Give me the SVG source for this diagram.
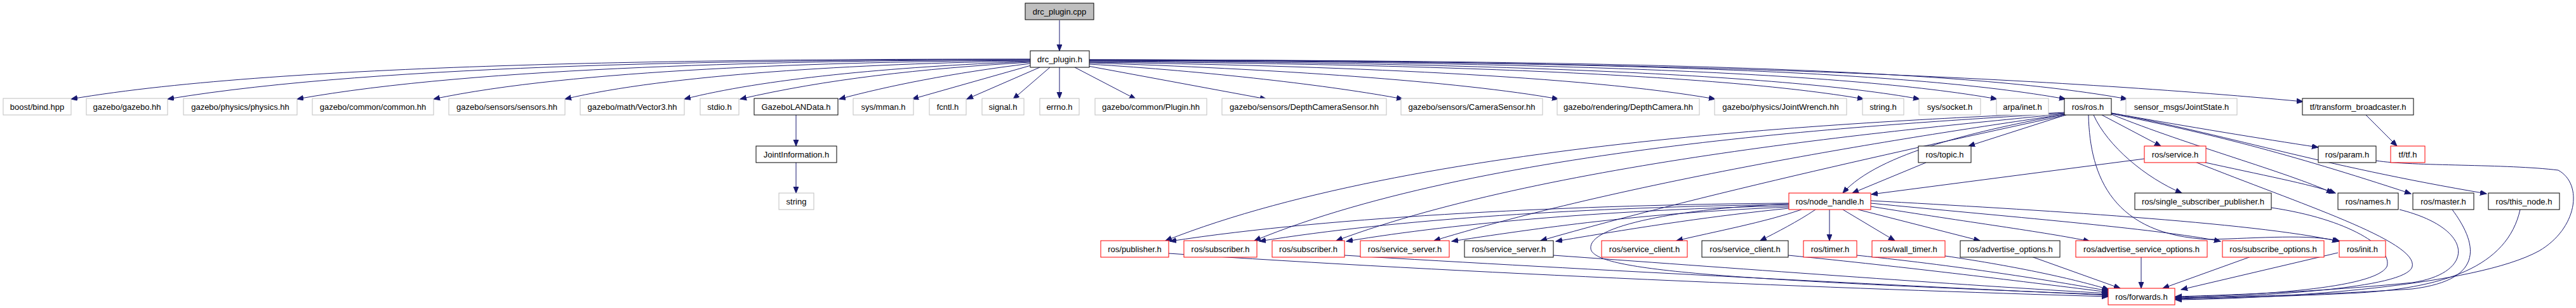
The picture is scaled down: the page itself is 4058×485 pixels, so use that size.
<svg xmlns="http://www.w3.org/2000/svg" width="4058" height="485" viewBox="0 0 4058 485">
<style>
rect{stroke-width:1}
.g{fill:#fff;stroke:#bfbfbf}
.b{fill:#fff;stroke:#000}
.r{fill:#fff;stroke:#ff0000}
.f{fill:#bfbfbf;stroke:#000}
text{font-family:"Liberation Sans",Arial,Helvetica,sans-serif;font-size:13px;fill:#000;text-anchor:middle}
.e path{fill:none;stroke:#191970;stroke-width:1;marker-end:url(#a)}
</style>
<defs>
<marker id="a" markerUnits="userSpaceOnUse" markerWidth="12" markerHeight="9" refX="10" refY="4" orient="auto">
<path d="M0,0 L10,4 L0,8 z" fill="#191970" stroke="#191970" stroke-width="1"/>
</marker>
</defs>
<rect width="4058" height="485" fill="#fff"/>
<g id="edges" class="e">
<path d="M1669,32 L1669,80"/>
<path d="M1623,93 C1150,93 450,98 112,156"/>
<path d="M1623,94 C1200,94 600,100 264,156"/>
<path d="M1623,94 C1250,95 750,105 468,156"/>
<path d="M1623,95 C1300,97 900,110 683,156"/>
<path d="M1623,96 C1350,100 1050,118 890,156"/>
<path d="M1623,97 C1400,105 1200,125 1078,156"/>
<path d="M1623,98 C1450,108 1300,125 1166,156"/>
<path d="M1623,100 C1500,115 1400,135 1322,156"/>
<path d="M1624,103 L1437,156"/>
<path d="M1638,106 L1523,156"/>
<path d="M1654,106 L1596,156"/>
<path d="M1669,106 L1669,155"/>
<path d="M1693,106 L1789,156"/>
<path d="M1714,104 L1995,156"/>
<path d="M1716,101 C1900,112 2100,135 2210,156"/>
<path d="M1716,99 C2000,108 2300,128 2455,156"/>
<path d="M1716,98 C2100,103 2500,120 2702,156"/>
<path d="M1716,97 C2200,100 2700,115 2936,156"/>
<path d="M1716,96 C2300,98 2800,115 3024,156"/>
<path d="M1716,95 C2400,97 2900,112 3146,156"/>
<path d="M1716,95 C2500,96 3000,110 3254,156"/>
<path d="M1716,94 C2600,95 3100,110 3351,156"/>
<path d="M1716,94 C2600,95 3200,120 3628,160"/>
<path d="M1254,181 L1254,230"/>
<path d="M1254,256 L1254,304"/>
<path d="M3727,181 L3776,230"/>
<path d="M3254,181 L3101,230"/>
<path d="M3311,181 L3404,230"/>
<path d="M3326,178 C3450,200 3560,218 3652,232"/>
<path d="M3298,181 C3320,230 3380,280 3437,304"/>
<path d="M3326,180 C3450,230 3600,270 3675,304"/>
<path d="M3326,179 C3480,210 3600,240 3798,305"/>
<path d="M3326,178 C3500,210 3650,260 3917,305"/>
<path d="M3290,181 C3292,280 3330,370 3480,377 C3560,375 3640,368 3686,380"/>
<path d="M3253,180 C3120,205 2960,240 2903,304"/>
<path d="M3253,177 C3000,190 2250,215 1836,379"/>
<path d="M3253,178 C3000,195 2350,225 1976,379"/>
<path d="M3254,179 C3050,200 2450,250 2105,379"/>
<path d="M3254,180 C3080,205 2600,275 2259,379"/>
<path d="M3255,181 C3100,215 2700,300 2427,379"/>
<path d="M3034,256 L2918,304"/>
<path d="M3378,250 L2948,306"/>
<path d="M3470,255 C3560,275 3640,290 3679,304"/>
<path d="M3458,255 C3620,320 3810,380 3800,420 C3790,455 3560,466 3427,470"/>
<path d="M2818,320 C2500,322 2100,340 1843,380"/>
<path d="M2818,322 C2500,326 2200,345 1984,380"/>
<path d="M2818,324 C2550,330 2300,350 2121,380"/>
<path d="M2818,326 C2600,335 2450,355 2287,380"/>
<path d="M2818,328 C2700,340 2600,355 2451,380"/>
<path d="M2838,330 C2780,350 2700,365 2641,379"/>
<path d="M2860,330 C2830,350 2800,365 2773,379"/>
<path d="M2882,330 L2882,379"/>
<path d="M2903,330 L2985,379"/>
<path d="M2927,330 L3119,379"/>
<path d="M2947,325 C3100,350 3220,365 3292,380"/>
<path d="M2947,320 C3150,340 3400,360 3498,380"/>
<path d="M2947,316 C3200,330 3550,350 3684,380"/>
<path d="M2818,321 C2650,328 2500,355 2506,392 C2512,425 2700,440 3321,464"/>
<path d="M1841,399 C2300,430 2900,455 3321,467"/>
<path d="M2118,402 C2500,425 3000,450 3321,465"/>
<path d="M2447,402 C2700,420 3100,450 3321,462"/>
<path d="M2817,402 C3000,420 3200,445 3321,460"/>
<path d="M2925,402 C3100,420 3250,445 3321,458"/>
<path d="M3064,403 C3180,420 3270,440 3322,456"/>
<path d="M3200,404 L3340,454"/>
<path d="M3373,404 L3373,454"/>
<path d="M3546,404 L3407,454"/>
<path d="M3683,398 L3436,456"/>
<path d="M3578,327 C3700,345 3770,390 3760,420 C3740,455 3550,465 3427,468"/>
<path d="M3780,330 C3900,360 3900,430 3800,445 C3650,460 3500,465 3427,467"/>
<path d="M3863,330 C3900,380 3920,440 3800,455 C3650,465 3500,468 3427,469"/>
<path d="M3970,330 C3950,420 3850,455 3700,462 C3600,467 3500,469 3427,471"/>
<path d="M3743,253 C3800,262 3950,258 4030,268 C4070,290 4060,360 4000,395 C3900,450 3600,470 3427,472"/>
</g>
<g id="n_drc_plugin_cpp"><rect class="f" x="1615" y="5" width="108" height="26"/><text x="1669" y="22.5">drc_plugin.cpp</text></g>
<g id="n_drc_plugin_h"><rect class="b" x="1623" y="80" width="93" height="26"/><text x="1669.5" y="97.5">drc_plugin.h</text></g>
<g id="n_boost_bind"><rect class="g" x="5" y="155" width="107" height="26"/><text x="58.5" y="172.5">boost/bind.hpp</text></g>
<g id="n_gazebo_gazebo"><rect class="g" x="136" y="155" width="128" height="26"/><text x="200" y="172.5">gazebo/gazebo.hh</text></g>
<g id="n_gazebo_physics"><rect class="g" x="289" y="155" width="179" height="26"/><text x="378.5" y="172.5">gazebo/physics/physics.hh</text></g>
<g id="n_gazebo_common"><rect class="g" x="492" y="155" width="191" height="26"/><text x="587.5" y="172.5">gazebo/common/common.hh</text></g>
<g id="n_gazebo_sensors"><rect class="g" x="707" y="155" width="183" height="26"/><text x="798.5" y="172.5">gazebo/sensors/sensors.hh</text></g>
<g id="n_gazebo_vector3"><rect class="g" x="914" y="155" width="164" height="26"/><text x="996" y="172.5">gazebo/math/Vector3.hh</text></g>
<g id="n_stdio"><rect class="g" x="1103" y="155" width="61" height="26"/><text x="1133.5" y="172.5">stdio.h</text></g>
<g id="n_gazebolandata"><rect class="b" x="1188" y="155" width="132" height="26"/><text x="1254" y="172.5">GazeboLANData.h</text></g>
<g id="n_sys_mman"><rect class="g" x="1344" y="155" width="95" height="26"/><text x="1391.5" y="172.5">sys/mman.h</text></g>
<g id="n_fcntl"><rect class="g" x="1464" y="155" width="58" height="26"/><text x="1493" y="172.5">fcntl.h</text></g>
<g id="n_signal"><rect class="g" x="1547" y="155" width="66" height="26"/><text x="1580" y="172.5">signal.h</text></g>
<g id="n_errno"><rect class="g" x="1638" y="155" width="62" height="26"/><text x="1669" y="172.5">errno.h</text></g>
<g id="n_gazebo_plugin"><rect class="g" x="1725" y="155" width="176" height="26"/><text x="1813" y="172.5">gazebo/common/Plugin.hh</text></g>
<g id="n_gazebo_depthcamerasensor"><rect class="g" x="1925" y="155" width="259" height="26"/><text x="2054.5" y="172.5">gazebo/sensors/DepthCameraSensor.hh</text></g>
<g id="n_gazebo_camerasensor"><rect class="g" x="2207" y="155" width="223" height="26"/><text x="2318.5" y="172.5">gazebo/sensors/CameraSensor.hh</text></g>
<g id="n_gazebo_depthcamera"><rect class="g" x="2453" y="155" width="224" height="26"/><text x="2565" y="172.5">gazebo/rendering/DepthCamera.hh</text></g>
<g id="n_gazebo_jointwrench"><rect class="g" x="2701" y="155" width="208" height="26"/><text x="2805" y="172.5">gazebo/physics/JointWrench.hh</text></g>
<g id="n_string_h"><rect class="g" x="2934" y="155" width="65" height="26"/><text x="2966.5" y="172.5">string.h</text></g>
<g id="n_sys_socket"><rect class="g" x="3023" y="155" width="97" height="26"/><text x="3071.5" y="172.5">sys/socket.h</text></g>
<g id="n_arpa_inet"><rect class="g" x="3145" y="155" width="82" height="26"/><text x="3186" y="172.5">arpa/inet.h</text></g>
<g id="n_ros_ros"><rect class="b" x="3252" y="155" width="74" height="26"/><text x="3289" y="172.5">ros/ros.h</text></g>
<g id="n_sensor_msgs"><rect class="g" x="3349" y="155" width="175" height="26"/><text x="3436.5" y="172.5">sensor_msgs/JointState.h</text></g>
<g id="n_tf_broadcaster"><rect class="b" x="3627" y="155" width="175" height="26"/><text x="3714.5" y="172.5">tf/transform_broadcaster.h</text></g>
<g id="n_jointinformation"><rect class="b" x="1191" y="230" width="127" height="26"/><text x="1254.5" y="247.5">JointInformation.h</text></g>
<g id="n_ros_topic"><rect class="b" x="3022" y="230" width="83" height="26"/><text x="3063.5" y="247.5">ros/topic.h</text></g>
<g id="n_ros_service"><rect class="r" x="3378" y="230" width="97" height="26"/><text x="3426.5" y="247.5">ros/service.h</text></g>
<g id="n_ros_param"><rect class="b" x="3652" y="230" width="91" height="26"/><text x="3697.5" y="247.5">ros/param.h</text></g>
<g id="n_tf_tf"><rect class="r" x="3766" y="230" width="54" height="26"/><text x="3793" y="247.5">tf/tf.h</text></g>
<g id="n_string"><rect class="g" x="1227" y="304" width="55" height="26"/><text x="1254.5" y="321.5">string</text></g>
<g id="n_ros_node_handle"><rect class="r" x="2818" y="304" width="129" height="26"/><text x="2882.5" y="321.5">ros/node_handle.h</text></g>
<g id="n_ros_ssp"><rect class="b" x="3363" y="304" width="215" height="26"/><text x="3470.5" y="321.5">ros/single_subscriber_publisher.h</text></g>
<g id="n_ros_names"><rect class="b" x="3683" y="304" width="95" height="26"/><text x="3730.5" y="321.5">ros/names.h</text></g>
<g id="n_ros_master"><rect class="b" x="3801" y="304" width="96" height="26"/><text x="3849" y="321.5">ros/master.h</text></g>
<g id="n_ros_this_node"><rect class="b" x="3920" y="304" width="112" height="26"/><text x="3976" y="321.5">ros/this_node.h</text></g>
<g id="n_ros_publisher"><rect class="r" x="1734" y="379" width="107" height="26"/><text x="1787.5" y="396.5">ros/publisher.h</text></g>
<g id="n_ros_subscriber_1"><rect class="r" x="1865" y="379" width="115" height="26"/><text x="1922.5" y="396.5">ros/subscriber.h</text></g>
<g id="n_ros_subscriber_2"><rect class="r" x="2004" y="379" width="114" height="26"/><text x="2061" y="396.5">ros/subscriber.h</text></g>
<g id="n_ros_service_server_1"><rect class="r" x="2143" y="379" width="140" height="26"/><text x="2213" y="396.5">ros/service_server.h</text></g>
<g id="n_ros_service_server_2"><rect class="b" x="2307" y="379" width="140" height="26"/><text x="2377" y="396.5">ros/service_server.h</text></g>
<g id="n_ros_service_client_1"><rect class="r" x="2523" y="379" width="135" height="26"/><text x="2590.5" y="396.5">ros/service_client.h</text></g>
<g id="n_ros_service_client_2"><rect class="b" x="2681" y="379" width="136" height="26"/><text x="2749" y="396.5">ros/service_client.h</text></g>
<g id="n_ros_timer"><rect class="r" x="2841" y="379" width="84" height="26"/><text x="2883" y="396.5">ros/timer.h</text></g>
<g id="n_ros_wall_timer"><rect class="r" x="2949" y="379" width="115" height="26"/><text x="3006.5" y="396.5">ros/wall_timer.h</text></g>
<g id="n_ros_advertise_options"><rect class="b" x="3088" y="379" width="157" height="26"/><text x="3166.5" y="396.5">ros/advertise_options.h</text></g>
<g id="n_ros_advertise_service_options"><rect class="r" x="3270" y="379" width="207" height="26"/><text x="3373.5" y="396.5">ros/advertise_service_options.h</text></g>
<g id="n_ros_subscribe_options"><rect class="r" x="3501" y="379" width="160" height="26"/><text x="3581" y="396.5">ros/subscribe_options.h</text></g>
<g id="n_ros_init"><rect class="r" x="3685" y="379" width="73" height="26"/><text x="3721.5" y="396.5">ros/init.h</text></g>
<g id="n_ros_forwards"><rect class="r" x="3321" y="454" width="105" height="26"/><text x="3373.5" y="471.5">ros/forwards.h</text></g>
</svg>
